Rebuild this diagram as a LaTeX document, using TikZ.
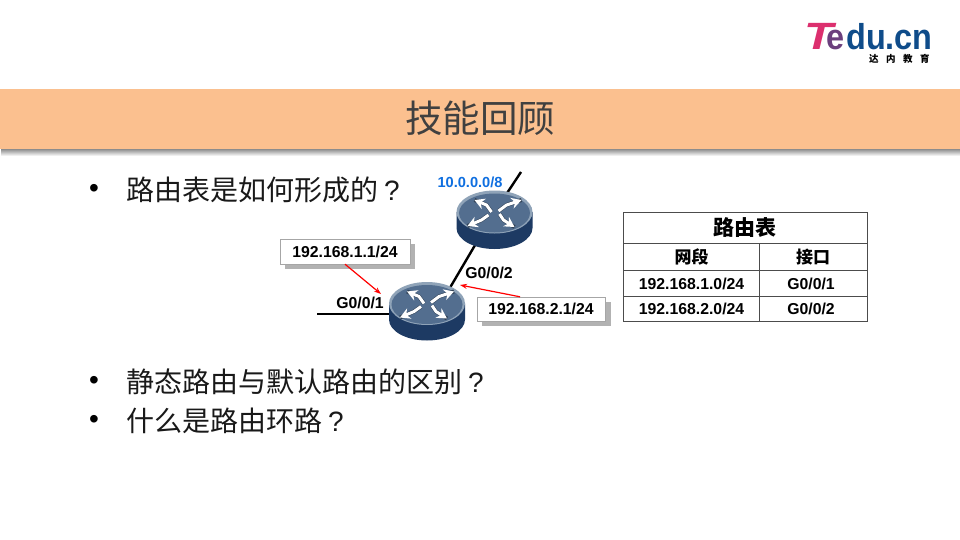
\documentclass[tikz,border=0pt]{standalone}
\usepackage{fontspec}
\setmainfont{Liberation Sans}
\newfontfamily\cjk{Noto Sans CJK SC}
\usetikzlibrary{positioning,arrows.meta}
\definecolor{bandcol}{HTML}{FBC08F}
\definecolor{rimcol}{HTML}{8FA3B8}
\definecolor{facecol}{HTML}{536E8F}
\definecolor{sidecol}{HTML}{1D3A63}
\definecolor{tealblue}{HTML}{0F4C8A}
\definecolor{ipblue}{HTML}{0F6FE0}
\definecolor{logopink}{HTML}{DC2F6E}
\tikzset{
    ipbox/.style={draw=gray!70, fill=white, minimum width=130pt, minimum height=25pt, inner sep=0pt, font=\fontsize{15.8}{18}\selectfont\bfseries},
    iplabel/.style={font=\fontsize{15.8}{18}\selectfont\bfseries},
    bodytext/.style={anchor=west, inner sep=0pt, text=black!90, font=\fontsize{28}{32}\selectfont\cjk},
    tablehead/.style={font=\fontsize{17}{20}\selectfont\cjk\bfseries},
    redarrow/.style={draw=red, line width=1.2pt, -{Stealth[length=7pt,width=5pt]}},
    router/.pic={
        \fill[sidecol] (-38,0) -- (-38,16) arc[start angle=180, end angle=0, x radius=38, y radius=21] -- (38,0) -- cycle;
        \fill[rimcol] (0,0) ellipse[x radius=38, y radius=21.5];
        \fill[facecol] (0,1) ellipse[x radius=35.5, y radius=19.5];
        \foreach \ax/\ay/\bx/\by/\hx/\hy in {4/-1/12/-7/27/-12, -6/3/-13/8/-27/14, -3/0/-8/-7/-20/-12, 5/2/9/8/20/15} {
            \draw[facecol!60!black, line width=4pt, line join=round] (\ax,\ay) -- (\bx,\by) -- (\hx,\hy);
            \draw[white, line width=3pt, line join=round, -{Stealth[length=10pt,width=11pt]}] (\ax,\ay) -- (\bx,\by) -- (\hx,\hy);
        }
    }
}
\begin{document}
\begin{tikzpicture}[x=1pt, y=-1pt]
    \useasboundingbox (0,0) rectangle (960,540);
    \fill[white] (0,0) rectangle (960,540);

    % logo
    \node[anchor=base west, inner sep=0pt, text=logopink, font=\fontsize{38}{40}\selectfont\bfseries\itshape] (logot) at (804,50) {\scalebox{1.25}[1]{T}};
    \node[anchor=base west, inner sep=0pt, text=logopink!45!tealblue, font=\fontsize{36}{40}\selectfont\bfseries] (logoe) at (826,50) {\scalebox{0.9}[1]{e}};
    \node[anchor=base west, inner sep=0pt, text=tealblue, font=\fontsize{36}{40}\selectfont\bfseries] (logoedu) at (846,50) {\scalebox{0.9}[1]{du.cn}};
    \node[anchor=west, inner sep=0pt, font=\fontsize{9.5}{11}\selectfont\cjk\bfseries] (logosub) at (869,58.5) {达\kern7.5pt内\kern7.5pt教\kern7.5pt育};

    % title band
    \shade[top color=black!45, bottom color=white] (1,149) rectangle (960,156);
    \fill[bandcol] (0,89) rectangle (960,149);
    \node[text=black!75, font=\fontsize{37.5}{40}\selectfont\cjk] (title) at (480,118) {技能回顾};

    % bullets
    \foreach \y/\nm/\txt in {190/first/路由表是如何形成的, 382/second/静态路由与默认路由的区别, 421/third/什么是路由环路} {
        \node[font=\fontsize{28}{30}\selectfont, yshift=-0.5pt] (dot\nm) at (94,\y) {•};
        \node[bodytext] (line\nm) at (126,\y) {\txt\kern6pt{\normalfont ?}};
    }

    % routers and links
    \coordinate (rtop) at (494.5,212);
    \coordinate (rlow) at (427,303.5);
    \coordinate (rport) at (441,303);
    \coordinate (topend) at (521,172);
    \coordinate (leftend) at (317,314);
    \coordinate (leftport) at (400,314);
    \draw[line width=2.4pt] (rport) -- (rtop) -- (topend);
    \draw[line width=2.4pt] (leftend) -- (leftport);
    \pic at (rtop) {router};
    \pic at (rlow) {router};

    \node[text=ipblue, font=\fontsize{14.6}{18}\selectfont\bfseries] (net) at (470,182) {10.0.0.0/8};
    \node[iplabel] (gone) at (360,303) {G0/0/1};
    \node[iplabel] (gtwo) at (489,273) {G0/0/2};

    % address boxes
    \fill[black!30] (285,244) rectangle (415,269);
    \fill[black!30] (482,302) rectangle (611,326);
    \node[ipbox] (ipone) at (345,251.5) {192.168.1.1/24};
    \node[ipbox, minimum width=128pt, minimum height=24pt] (iptwo) at (541,309) {192.168.2.1/24};
    \coordinate (oneend) at (381,294);
    \coordinate (twoend) at (460,285);
    \draw[redarrow] (ipone.south) -- (oneend);
    \draw[redarrow] ([xshift=-21pt]iptwo.north) -- (twoend);

    % table
    \draw[line width=0.8pt, draw=black!70] (623,212) rectangle (867,321);
    \foreach \y in {243,270,296} {
        \draw[line width=0.8pt, draw=black!70] (623,\y) -- (867,\y);
    }
    \draw[line width=0.8pt, draw=black!70] (759.5,243) -- (759.5,321);
    \node[font=\fontsize{21}{24}\selectfont\cjk\bfseries] (tabtitle) at (745,228) {路由表};
    \node[tablehead] (headnet) at (691.5,257) {网段};
    \node[tablehead] (headport) at (813,257) {接口};
    \foreach \y/\nm/\net/\port in {283.5/one/192.168.1.0\slash 24/G0\slash 0\slash 1, 309/two/192.168.2.0\slash 24/G0\slash 0\slash 2} {
        \node[iplabel] (net\nm) at (691.5,\y) {\net};
        \node[iplabel] (port\nm) at (811,\y) {\port};
    }
\end{tikzpicture}
\end{document}
